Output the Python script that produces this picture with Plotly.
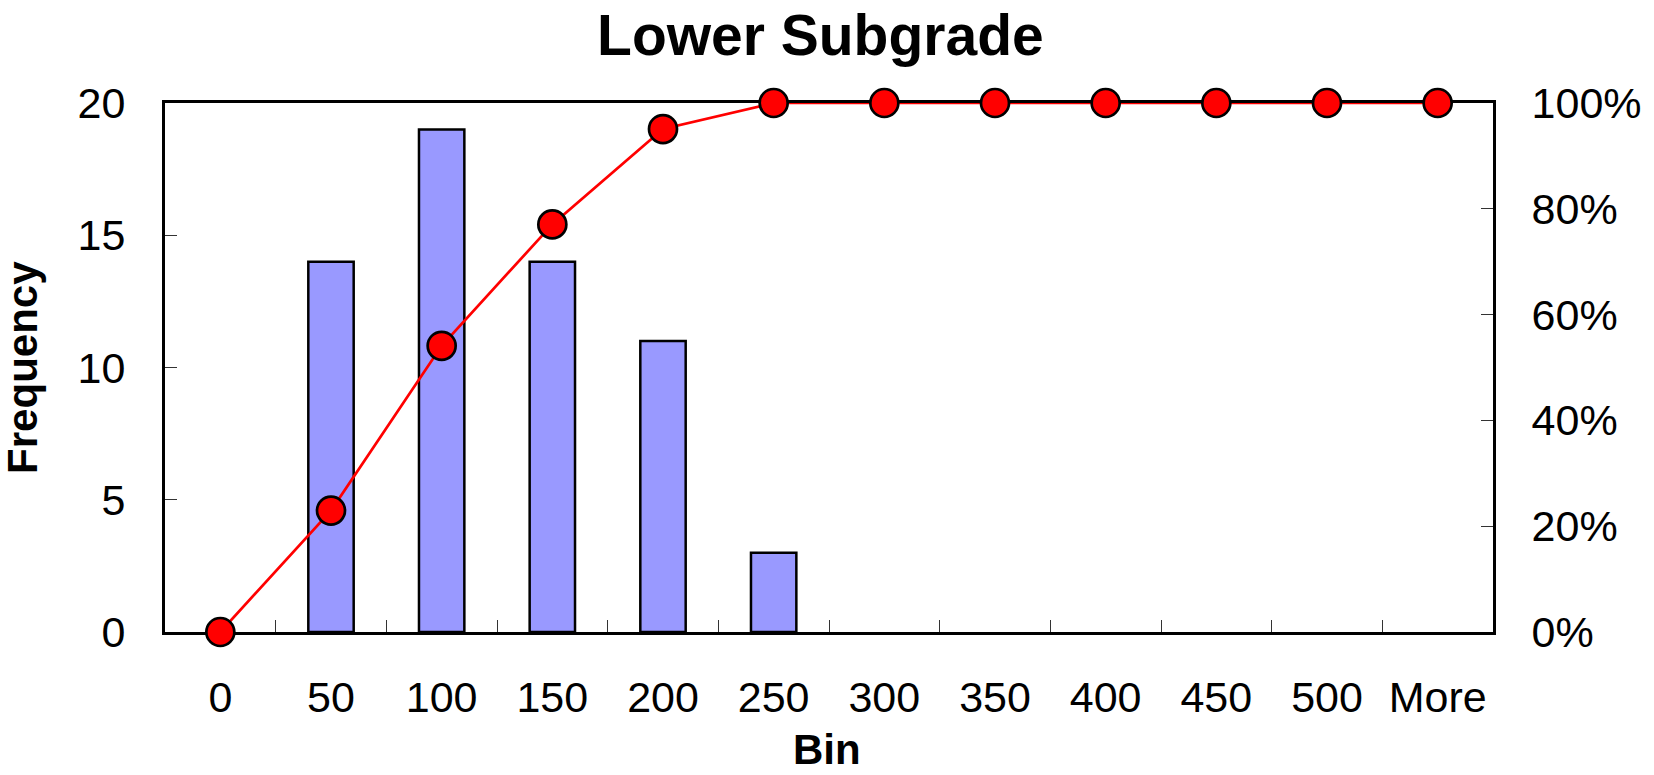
import plotly.graph_objects as go

# Histogram bins, frequency counts and cumulative share
bins = ["0", "50", "100", "150", "200", "250", "300", "350", "400", "450", "500", "More"]
frequency = [0, 14, 19, 14, 11, 3, 0, 0, 0, 0, 0, 0]
cumulative_pct = [0.0, 0.2295, 0.5410, 0.7705, 0.9508, 1.0, 1.0, 1.0, 1.0, 1.0, 1.0, 1.0]

left_ticks = [0, 5, 10, 15, 20]
right_ticks = [0, 0.2, 0.4, 0.6, 0.8, 1.0]
right_tick_text = ["0%", "20%", "40%", "60%", "80%", "100%"]

FONT = "Liberation Sans, Arial, sans-serif"
TICK_SIZE = 43

# empty bins get no outline so nothing is stroked along the baseline
bar_outline = [2.5 if f > 0 else 0 for f in frequency]

fig = go.Figure()

fig.add_trace(go.Bar(
    x=bins,
    y=frequency,
    width=0.41,
    marker=dict(color="#9999FF", line=dict(color="black", width=bar_outline)),
    name="Frequency",
    yaxis="y",
))

fig.add_trace(go.Scatter(
    x=bins,
    y=cumulative_pct,
    mode="lines+markers",
    line=dict(color="#FF0000", width=2.7),
    marker=dict(color="#FF0000", size=28, line=dict(color="black", width=2.7)),
    cliponaxis=False,
    name="Cumulative %",
    yaxis="y2",
))

axis_common = dict(
    showline=True,
    linecolor="black",
    linewidth=3,
    ticks="inside",
    ticklen=12,
    tickwidth=1,
    tickcolor="#333333",
    showgrid=False,
    zeroline=False,
    automargin=False,
    layer="below traces",
    tickfont=dict(family=FONT, size=TICK_SIZE),
)

fig.update_layout(
    width=1654,
    height=775,
    margin=dict(l=165, r=161, t=103, b=143),
    paper_bgcolor="white",
    plot_bgcolor="white",
    showlegend=False,
    font=dict(family=FONT, size=TICK_SIZE, color="black"),
    title=dict(
        text="<b>Lower Subgrade</b>",
        font=dict(family=FONT, size=57, color="black"),
        x=0.496,
        xanchor="center",
        y=0.955,
        yanchor="middle",
    ),
    xaxis=dict(
        type="category",
        categoryorder="array",
        categoryarray=bins,
        range=[-0.5, len(bins) - 0.5],
        mirror=True,
        tickson="boundaries",
        ticklabelstandoff=25,
        **axis_common,
    ),
    yaxis=dict(
        range=[0, 20],
        tickvals=left_ticks,
        ticklabelstandoff=28,
        **axis_common,
    ),
    yaxis2=dict(
        range=[0, 1],
        tickvals=right_ticks,
        ticktext=right_tick_text,
        overlaying="y",
        side="right",
        ticklabelstandoff=27,
        **axis_common,
    ),
    annotations=[
        # axis titles placed relative to the plot area
        dict(
            text="<b>Bin</b>",
            xref="paper", yref="paper",
            x=0.4985, y=-0.223,
            xanchor="center", yanchor="middle",
            showarrow=False,
            font=dict(family=FONT, size=42, color="black"),
        ),
        dict(
            text="<b>Frequency</b>",
            xref="paper", yref="paper",
            x=-0.107, y=0.501,
            xanchor="center", yanchor="middle",
            textangle=-90,
            showarrow=False,
            font=dict(family=FONT, size=42, color="black"),
        ),
    ],
)

fig.write_html("out.html")
